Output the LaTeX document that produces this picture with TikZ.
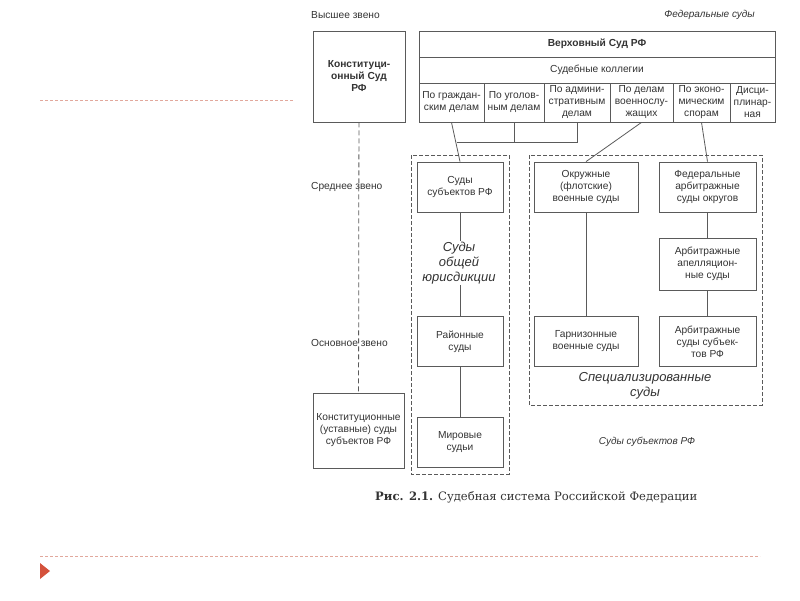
\documentclass[tikz,border=0pt]{standalone}
\usepackage{fontspec}
\setmainfont{DejaVu Serif}
\setsansfont{Liberation Sans}
\usetikzlibrary{positioning}

\definecolor{lin}{HTML}{5A5A5A}
\definecolor{txt}{HTML}{333333}
\definecolor{deco}{HTML}{E2A89C}
\definecolor{redmark}{HTML}{D4523C}

\begin{document}
\begin{tikzpicture}[
    x=1pt, y=-1pt,
    every node/.style={font=\sffamily\fontsize{10.2}{12}\selectfont,
                       text=txt,inner sep=1pt},
    box/.style={draw=lin,line width=0.8pt,align=center,
                minimum width=86pt,minimum height=50pt},
    col/.style={draw=lin,line width=0.8pt,align=center,
                minimum height=39pt},
    lvl/.style={anchor=west},
    grp/.style={font=\sffamily\itshape\fontsize{13}{15}\selectfont,
                align=center,fill=white},
    note/.style={font=\sffamily\itshape\fontsize{10}{12}\selectfont},
    conn/.style={draw=lin,line width=0.8pt},
    frame/.style={draw=lin,line width=0.8pt,dash pattern=on 4pt off 2pt}
]
\useasboundingbox (0,0) rectangle (800,600);

% levels
\node[lvl] (top)  at (310,15)  {Высшее звено};
\node[lvl] (mid)  at (310,187) {Среднее звено};
\node[lvl] (base) at (310,343) {Основное звено};
\node[note,anchor=east] (fed) at (756,15) {Федеральные суды};

% supreme courts
\node[box,minimum width=92pt,minimum height=91pt,
      font=\sffamily\bfseries\fontsize{10.2}{12}\selectfont]
      (ksrf) at (359,76.5) {Конституци-\\онный Суд\\РФ};
\node[box,minimum width=356pt,minimum height=26pt,
      font=\sffamily\bfseries\fontsize{10.2}{12}\selectfont]
      (vs) at (597,44) {Верховный Суд РФ};
\node[box,minimum width=356pt,minimum height=26pt]
      (koll) at (597,70) {Судебные коллегии};

% collegia
\node[col,minimum width=65pt] (civ)  at (451.5,102.5) {По граждан-\\ским делам};
\node[col,minimum width=60pt] (crim) at (514,102.5)   {По уголов-\\ным делам};
\node[col,minimum width=66pt] (adm)  at (577,102.5)   {По админи-\\стративным\\делам};
\node[col,minimum width=63pt] (mil)  at (641.5,102.5) {По делам\\военнослу-\\жащих};
\node[col,minimum width=57pt] (eco)  at (701.5,102.5) {По эконо-\\мическим\\спорам};
\node[col,minimum width=45pt] (disc) at (752.5,102.5) {Дисци-\\плинар-\\ная};

% groups
\draw[frame] (411,155) rectangle (509,474);
\draw[frame] (529,155) rectangle (762,405);

% general jurisdiction
\node[box] (ssrf) at (460,187)   {Суды\\субъектов РФ};
\node[box] (rs)   at (460,341.5) {Районные\\суды};
\node[box] (ms)   at (460,442.5) {Мировые\\судьи};

% specialised
\node[box,minimum width=104pt] (okr)  at (586,187)     {Окружные\\(флотские)\\военные суды};
\node[box,minimum width=104pt] (garn) at (586,341.5)   {Гарнизонные\\военные суды};
\node[box,minimum width=97pt]  (faso) at (707.5,187)   {Федеральные\\арбитражные\\суды округов};
\node[box,minimum width=97pt,minimum height=52pt]
      (aas)  at (707.5,264)   {Арбитражные\\апелляцион-\\ные суды};
\node[box,minimum width=97pt]  (asub) at (707.5,341.5) {Арбитражные\\суды субъек-\\тов РФ};

% regional
\node[box,minimum width=91pt,minimum height=75pt]
      (kus) at (358.5,430.5) {Конституционные\\(уставные) суды\\субъектов РФ};

% connectors
\coordinate (jn) at (457,142);
\draw[conn] (civ.south) -- (ssrf.north);
\draw[conn] (crim.south) -- (crim.south |- jn);
\draw[conn] (adm.south) |- (jn);
\draw[conn] (mil.south) -- (okr.north);
\draw[conn] (eco.south) -- (faso.north);
\draw[conn] (ssrf) -- (rs);
\draw[conn] (rs) -- (ms);
\draw[conn] (okr) -- (garn);
\draw[conn] (faso) -- (aas);
\draw[conn] (aas) -- (asub);
\draw[frame,dash pattern=on 5pt off 3pt] (ksrf) -- (kus);

% group labels
\node[grp] (obsh) at (459,263) {Суды\\общей\\юрисдикции};
\node[grp] (spec) at (645,386) {Специализированные\\суды};
\node[note] (subj) at (647,442) {Суды субъектов РФ};

% caption
\node[font=\rmfamily\fontsize{11.6}{13}\selectfont,anchor=west]
      (cap) at (374,497) {\textbf{Рис. 2.1.} Судебная система Российской Федерации};

% slide decoration
\draw[deco,line width=1pt,dash pattern=on 3pt off 2pt] (40,100) -- (293,100);
\draw[deco,line width=1pt,dash pattern=on 3pt off 2pt] (40,556) -- (760,556);
\fill[redmark] (40,563) -- (50,571) -- (40,579) -- cycle;
\end{tikzpicture}
\end{document}
